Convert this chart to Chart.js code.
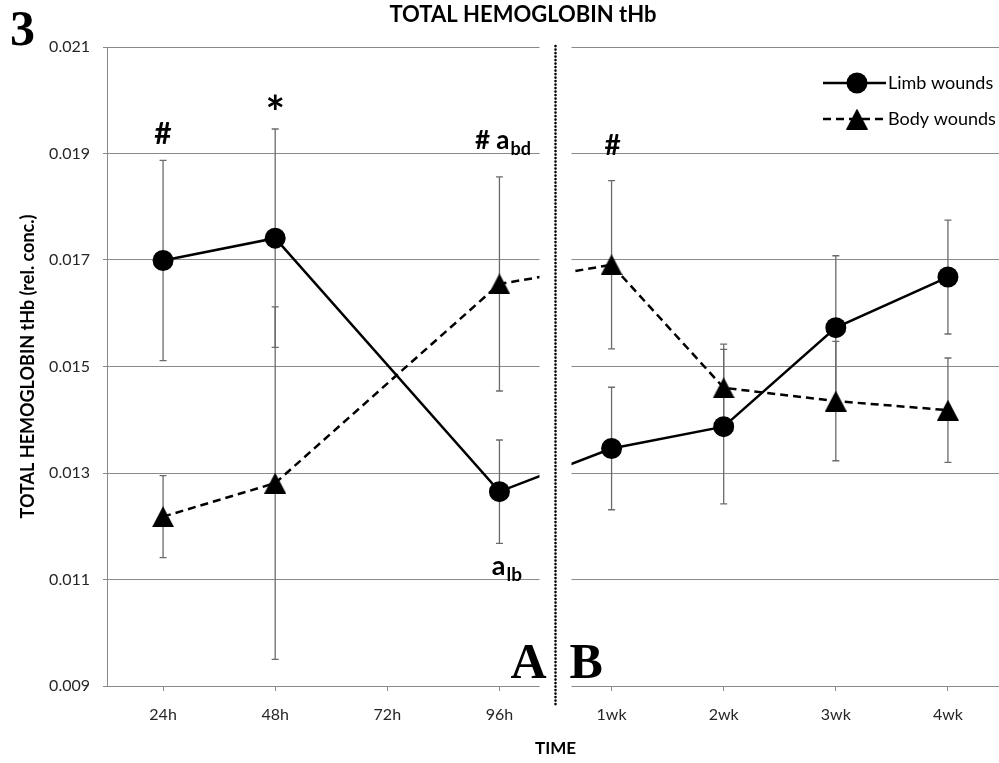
<!DOCTYPE html>
<html><head><meta charset="utf-8">
<script src="https://cdn.jsdelivr.net/npm/chart.js@4/dist/chart.umd.min.js"></script>
<style>html,body{margin:0;padding:0;background:#fff}#wrap{width:999px;height:763px}</style>
</head><body><div id="wrap"><canvas id="c" width="999" height="763"></canvas></div>
<script>
// ---- data ----
const categories = ['24h', '48h', '72h', '96h', '1wk', '2wk', '3wk', '4wk'];
const limbMean = [0.01699, 0.01741, null, 0.01265, 0.01346, 0.01387, 0.01573, 0.01668];
const limbErr  = [0.00188, 0.00205, null, 0.00097, 0.00115, 0.00145, 0.00135, 0.00107];
const bodyMean = [0.01218, 0.01281, null, 0.01655, 0.01691, 0.01460, 0.01435, 0.01418];
const bodyErr  = [0.00077, 0.00331, null, 0.00201, 0.00158, 0.00082, 0.00112, 0.00098];
const yTicks = [0.009, 0.011, 0.013, 0.015, 0.017, 0.019, 0.021];
const seriesNames = ['Limb wounds', 'Body wounds'];
const annotations = [
  { cat: 0, value: 0.01918, text: '#', sub: '', size: 30, dx: 0 },
  { cat: 1, value: 0.01946, text: '*', sub: '', size: 46, dx: 0 },
  { cat: 3, value: 0.01908, text: '# a', sub: 'bd', size: 26, dx: 3 },
  { cat: 4, value: 0.01897, text: '#', sub: '', size: 28, dx: 1 },
  { cat: 3, value: 0.01109, text: 'a', sub: 'lb', size: 27, dx: 7 }
];

// triangle marker (bounding-box centred, like the original)
const triMarker = (() => {
  const c = document.createElement('canvas'); c.width = 22; c.height = 21;
  const g = c.getContext('2d'); g.fillStyle = '#000';
  g.beginPath(); g.moveTo(11, 0); g.lineTo(22, 21); g.lineTo(0, 21); g.closePath(); g.fill();
  return c;
})();

// the original plot area runs a little past the right edge of the picture
const extendRight = {
  id: 'extendRight',
  afterLayout(chart) {
    const ca = chart.chartArea, xs = chart.scales.x;
    const r = ca.right + 6;
    ca.right = r; ca.width = r - ca.left;
    xs.right = r; xs.width = r - xs.left;
    xs.configure();
  }
};

const errorBars = {
  id: 'errorBars',
  beforeDatasetsDraw(chart) {
    const ctx = chart.ctx, ys = chart.scales.y;
    chart.data.datasets.forEach((ds, di) => {
      const meta = chart.getDatasetMeta(di);
      ds.errors.forEach((e, i) => {
        const v = ds.data[i];
        if (v == null || e == null) return;
        const x = meta.data[i].x;
        const t = ys.getPixelForValue(v + e), b = ys.getPixelForValue(v - e);
        ctx.save();
        ctx.strokeStyle = '#6b6b6b'; ctx.lineWidth = 1.3;
        ctx.beginPath();
        ctx.moveTo(x, t); ctx.lineTo(x, b);
        ctx.moveTo(x - 3.5, t); ctx.lineTo(x + 3.5, t);
        ctx.moveTo(x - 3.5, b); ctx.lineTo(x + 3.5, b);
        ctx.stroke();
        ctx.restore();
      });
    });
  }
};

const overlay = {
  id: 'overlay',
  afterDraw(chart) {
    const ctx = chart.ctx, xs = chart.scales.x, ys = chart.scales.y, ca = chart.chartArea;
    ctx.save();
    // gap between the two panels
    const gx = (xs.getPixelForValue(3) + xs.getPixelForValue(4)) / 2;
    ctx.fillStyle = '#fff';
    ctx.fillRect(gx - 16, ca.top - 3, 32, ca.bottom - ca.top + 10);
    ctx.strokeStyle = '#000'; ctx.lineWidth = 2.6; ctx.lineCap = 'round';
    ctx.setLineDash([0.1, 3.4]);
    ctx.beginPath(); ctx.moveTo(gx, ca.top - 1); ctx.lineTo(gx, ca.bottom + 19); ctx.stroke();
    ctx.setLineDash([]); ctx.lineCap = 'butt';

    // title
    ctx.fillStyle = '#000';
    ctx.textAlign = 'center'; ctx.textBaseline = 'alphabetic';
    ctx.font = 'bold 22px Lato';
    ctx.fillText('TOTAL HEMOGLOBIN tHb', 523, 22);

    // panel labels
    ctx.font = 'bold 50px "Liberation Serif"';
    ctx.textAlign = 'left';
    ctx.fillText('3', 10, 45);
    ctx.textAlign = 'right';
    ctx.fillText('A', gx - 9, ca.bottom - 8);
    ctx.textAlign = 'left';
    ctx.fillText('B', gx + 14, ca.bottom - 8);

    // annotations
    annotations.forEach(a => {
      const x = xs.getPixelForValue(a.cat) + a.dx;
      const y = ys.getPixelForValue(a.value);
      ctx.font = 'bold ' + a.size + 'px Lato';
      const w1 = ctx.measureText(a.text).width;
      const subSize = Math.round(a.size * 0.7);
      ctx.font = 'bold ' + subSize + 'px Lato';
      const w2 = a.sub ? ctx.measureText(a.sub).width : 0;
      const left = x - (w1 + w2) / 2;
      ctx.textAlign = 'left';
      ctx.font = 'bold ' + a.size + 'px Lato';
      ctx.fillText(a.text, left, y);
      if (a.sub) {
        ctx.font = 'bold ' + subSize + 'px Lato';
        ctx.fillText(a.sub, left + w1 + 1, y + 6);
      }
    });

    // legend
    const lx0 = 823, lx1 = 886, mx = 857;
    const ly = [83, 119];
    ctx.strokeStyle = '#000'; ctx.lineWidth = 2.5;
    ctx.beginPath(); ctx.moveTo(lx0, ly[0]); ctx.lineTo(lx1, ly[0]); ctx.stroke();
    ctx.beginPath(); ctx.arc(mx, ly[0], 10.5, 0, Math.PI * 2); ctx.fill();
    ctx.setLineDash([8, 5]);
    ctx.beginPath(); ctx.moveTo(lx0, ly[1]); ctx.lineTo(lx1, ly[1]); ctx.stroke();
    ctx.setLineDash([]);
    ctx.drawImage(triMarker, mx - 11, ly[1] - 10.5);
    ctx.font = '18px Lato'; ctx.textAlign = 'left'; ctx.textBaseline = 'middle';
    ctx.fillText(seriesNames[0], 888, ly[0]);
    ctx.fillText(seriesNames[1], 888, ly[1]);
    ctx.restore();
  }
};

const grey = '#8a8a8a';
new Chart(document.getElementById('c'), {
  type: 'line',
  data: {
    labels: categories,
    datasets: [
      { label: seriesNames[0], data: limbMean, errors: limbErr, borderColor: '#000', borderWidth: 2.5,
        pointStyle: 'circle', pointRadius: 10.5, pointBackgroundColor: '#000', pointBorderWidth: 0,
        spanGaps: true, tension: 0, fill: false },
      { label: seriesNames[1], data: bodyMean, errors: bodyErr, borderColor: '#000', borderWidth: 2.5,
        borderDash: [8, 5], pointStyle: triMarker, pointRadius: 11, pointBackgroundColor: '#000',
        spanGaps: true, tension: 0, fill: false }
    ]
  },
  options: {
    responsive: false, animation: false, events: [],
    layout: { autoPadding: false, padding: { top: 47, right: 1, left: 0, bottom: 0 } },
    plugins: { legend: { display: false }, tooltip: { enabled: false }, title: { display: false } },
    scales: {
      x: {
        type: 'category', offset: true,
        grid: { drawOnChartArea: false, drawTicks: true, tickLength: 5, color: grey, lineWidth: 1 },
        border: { color: grey, width: 1 },
        ticks: { color: '#262626', font: { family: 'Lato', size: 16 }, padding: 14, maxRotation: 0, autoSkip: false },
        title: { display: true, text: 'TIME', color: '#000', font: { family: 'Lato', size: 17, weight: 'bold' }, padding: { top: 0, bottom: 4 } },
        afterFit(s) { s.height = 77; s.paddingLeft = 0; s.paddingRight = 0; }
      },
      y: {
        min: 0.009, max: 0.021,
        afterBuildTicks(s) { s.ticks = yTicks.map(v => ({ value: v })); },
        grid: { color: grey, lineWidth: 1, tickLength: 4 },
        border: { color: grey, width: 1 },
        ticks: { color: '#262626', font: { family: 'Lato', size: 16 }, padding: 13, callback: v => Number(v).toFixed(3) },
        title: { display: true, text: 'TOTAL HEMOGLOBIN tHb (rel. conc.)', color: '#000', font: { family: 'Lato', size: 18, weight: 'bold' }, padding: { top: 17, bottom: 0 } },
        afterFit(s) { s.width = 107; }
      }
    }
  },
  plugins: [extendRight, errorBars, overlay]
});
</script></body></html>
